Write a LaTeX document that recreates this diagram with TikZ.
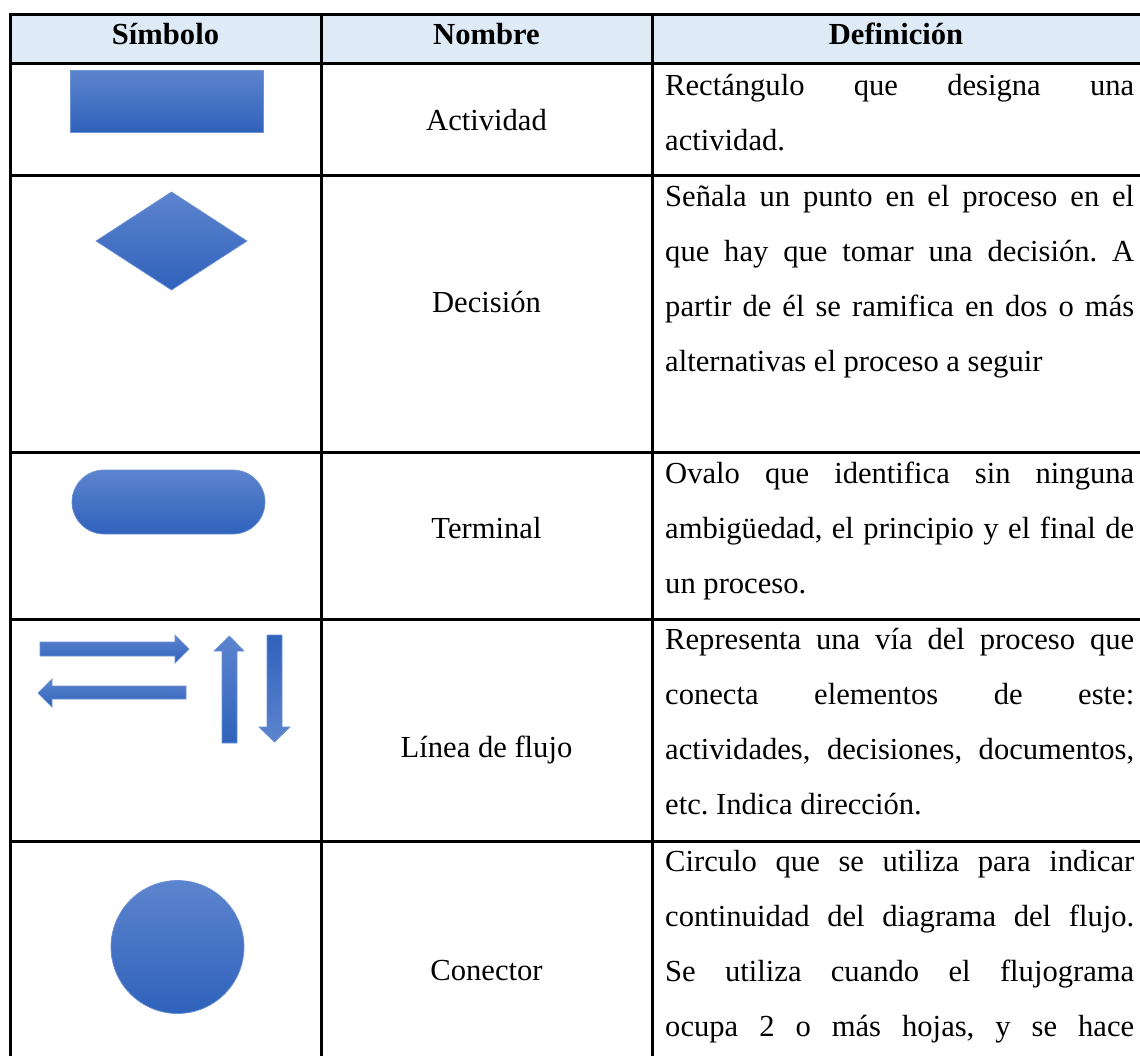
\documentclass[tikz,border=0pt]{standalone}
\usepackage{fontspec}
\setmainfont{Liberation Serif}
\definecolor{symtop}{HTML}{5D84CE}
\definecolor{symbot}{HTML}{2F62BB}
\definecolor{symedge}{HTML}{6D92D5}
\definecolor{headfill}{HTML}{DEEAF6}
% one justified line of the definition column
\newcommand{\jline}[1]{\makebox[469pt][s]{#1}}
\frenchspacing
\begin{document}
\begin{tikzpicture}[x=1pt,y=-1pt,
  rule/.style={line width=3pt, line cap=rect},
  symshape/.style={top color=symtop, bottom color=symbot, draw=symedge, line width=0.7pt},
  symflip/.style={top color=symbot, bottom color=symtop, draw=symedge, line width=0.7pt},
  headtext/.style={font=\bfseries\fontsize{30.6}{36}\selectfont, anchor=base, inner sep=0pt},
  nametext/.style={font=\fontsize{30.6}{36}\selectfont, anchor=base, inner sep=0pt},
  deftext/.style={font=\fontsize{30.6}{36}\selectfont\frenchspacing, anchor=base west, inner sep=0pt},
]
\useasboundingbox (0,0) rectangle (1140,1055);

% header band
\fill[headfill] (10,14) rectangle (1140,63);

% symbols
\path[symshape] (70,70) rectangle (263,132);
\path[symshape] (96,241) -- (171.5,192) -- (247,241) -- (171.5,290) -- cycle;
\path[symshape, rounded corners=32pt] (72,470) rectangle (265,534);
\path[symshape] (40,642) -- (175,642) -- (175,635) -- (189,649) -- (175,663)
  -- (175,656) -- (40,656) -- cycle;
\path[symshape] (186,686) -- (52,686) -- (52,679) -- (38,693) -- (52,707)
  -- (52,699) -- (186,699) -- cycle;
\path[symshape] (222,743) -- (222,651) -- (214,651) -- (229.5,636) -- (244,651)
  -- (237,651) -- (237,743) -- cycle;
\path[symflip] (267,635) -- (282,635) -- (282,727) -- (290,727) -- (274.5,742)
  -- (259,727) -- (267,727) -- cycle;
\path[symshape] (177.5,947) circle[radius=66.5];

% table rules
\draw[rule] (10,14) -- (1140,14);
\foreach \yy in {63,175,452,619,841}
  \draw[rule] (10,\yy) -- (1140,\yy);
\foreach \xx in {10,321,652}
  \draw[rule] (\xx,14) -- (\xx,1056);

% header
\node[headtext] (hsym) at (165.5,44) {Símbolo};
\node[headtext] (hname) at (486.5,44) {Nombre};
\node[headtext] (hdef) at (896,44) {Definición};

% names
\node[nametext] (nact) at (486.5,130) {Actividad};
\node[nametext] (ndec) at (486.5,312) {Decisión};
\node[nametext] (nter) at (486.5,538) {Terminal};
\node[nametext] (nlin) at (486.5,757) {Línea de flujo};
\node[nametext] (ncon) at (486.5,980) {Conector};

% definitions
\node[deftext] (da1) at (665,95) {\jline{Rectángulo que designa una}};
\node[deftext] (da2) at (665,150) {actividad.};

\node[deftext] (db1) at (665,206) {\jline{Señala un punto en el proceso en el}};
\node[deftext] (db2) at (665,261) {\jline{que hay que tomar una decisión. A}};
\node[deftext] (db3) at (665,316) {\jline{partir de él se ramifica en dos o más}};
\node[deftext] (db4) at (665,371) {alternativas el proceso a seguir};

\node[deftext] (dc1) at (665,483) {\jline{Ovalo que identifica sin ninguna}};
\node[deftext] (dc2) at (665,538) {\jline{ambigüedad, el principio y el final de}};
\node[deftext] (dc3) at (665,593) {un proceso.};

\node[deftext] (dd1) at (665,649) {\jline{Representa una vía del proceso que}};
\node[deftext] (dd2) at (665,704) {\jline{conecta elementos de este:}};
\node[deftext] (dd3) at (665,759) {\jline{actividades, decisiones, documentos,}};
\node[deftext] (dd4) at (665,814) {etc. Indica dirección.};

\node[deftext] (de1) at (665,871) {\jline{Circulo que se utiliza para indicar}};
\node[deftext] (de2) at (665,926) {\jline{continuidad del diagrama del flujo.}};
\node[deftext] (de3) at (665,981) {\jline{Se utiliza cuando el flujograma}};
\node[deftext] (de4) at (665,1036) {\jline{ocupa 2 o más hojas, y se hace}};
\end{tikzpicture}
\end{document}
